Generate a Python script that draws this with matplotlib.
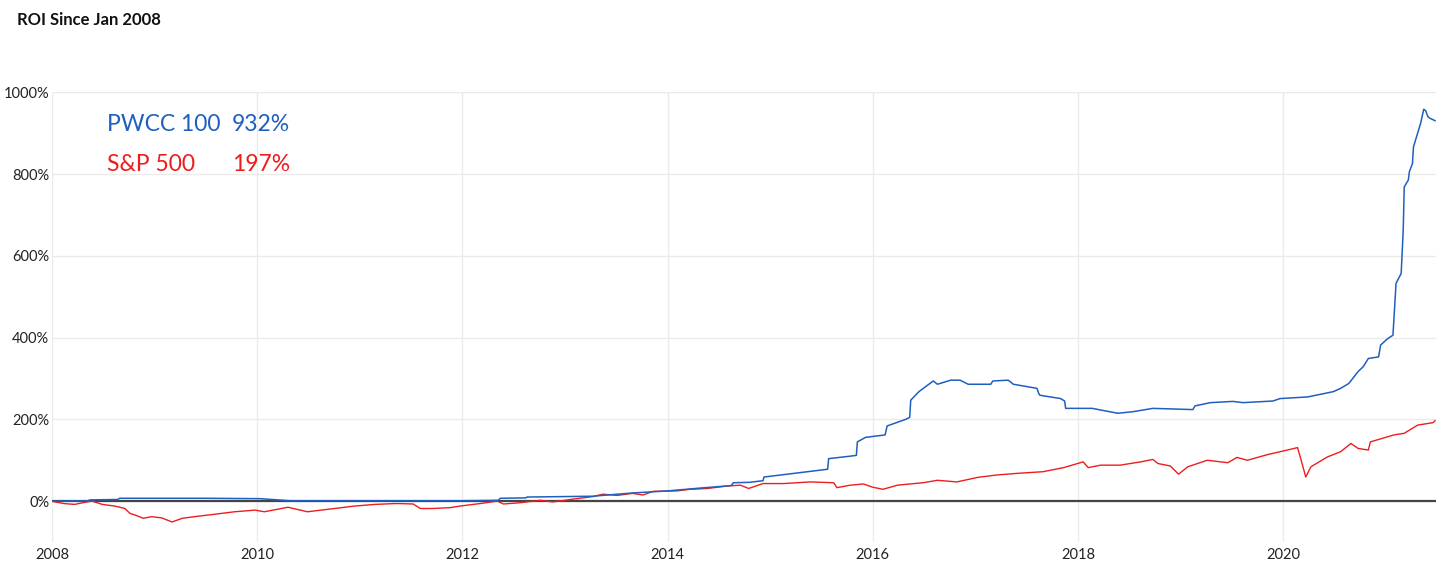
import matplotlib
matplotlib.use('Agg')
import matplotlib.pyplot as plt

# PWCC 100 index, ROI in % (decimal year, value)
pwcc_anos = [2008.00, 2008.35, 2008.37, 2008.64, 2008.66, 2009.50, 2010.03, 2010.32, 2011.00, 2012.00,
             2012.35, 2012.37, 2012.62, 2012.63, 2013.27, 2013.66, 2014.00, 2014.32, 2014.62, 2014.64,
             2014.80, 2014.93, 2014.94, 2015.56, 2015.57, 2015.78, 2015.84, 2015.85, 2015.93, 2016.12,
             2016.14, 2016.32, 2016.36, 2016.37, 2016.45, 2016.59, 2016.63, 2016.76, 2016.85, 2016.93,
             2017.15, 2017.17, 2017.32, 2017.37, 2017.60, 2017.62, 2017.63, 2017.83, 2017.87, 2017.88,
             2018.14, 2018.22, 2018.39, 2018.54, 2018.73, 2019.12, 2019.14, 2019.29, 2019.51, 2019.61,
             2019.90, 2019.97, 2020.24, 2020.49, 2020.56, 2020.64, 2020.73, 2020.78, 2020.83, 2020.93,
             2020.95, 2021.02, 2021.07, 2021.10, 2021.15, 2021.17, 2021.18, 2021.22, 2021.23, 2021.26,
             2021.27, 2021.31, 2021.34, 2021.37, 2021.39, 2021.41, 2021.43, 2021.48]
pwcc_roi = [0, 1, 3, 4, 7, 7, 6, 1, 1, 1,
            2, 7, 8, 10, 12, 20, 25, 32, 38, 45,
            46, 50, 59, 78, 104, 110, 112, 145, 156, 162,
            184, 200, 205, 247, 268, 294, 286, 296, 296, 286,
            286, 294, 296, 286, 276, 262, 259, 251, 245, 227,
            227, 223, 215, 219, 227, 224, 233, 241, 244, 241,
            245, 251, 255, 268, 276, 288, 317, 329, 349, 353,
            382, 398, 406, 533, 557, 663, 769, 786, 806, 826,
            867, 900, 925, 959, 955, 941, 937, 931]

# S&P 500, ROI in %
sp_anos = [2008.00, 2008.03, 2008.12, 2008.22, 2008.32, 2008.39, 2008.49, 2008.61, 2008.71, 2008.76,
           2008.81, 2008.89, 2008.97, 2009.07, 2009.17, 2009.27, 2009.39, 2009.59, 2009.78, 2009.98,
           2010.07, 2010.30, 2010.49, 2010.69, 2010.95, 2011.15, 2011.34, 2011.39, 2011.52, 2011.59,
           2011.71, 2011.88, 2011.98, 2012.17, 2012.34, 2012.40, 2012.56, 2012.76, 2012.88, 2013.08,
           2013.27, 2013.37, 2013.51, 2013.66, 2013.76, 2013.86, 2014.09, 2014.22, 2014.39, 2014.58,
           2014.71, 2014.79, 2014.93, 2015.13, 2015.39, 2015.62, 2015.65, 2015.78, 2015.91, 2016.00,
           2016.10, 2016.24, 2016.49, 2016.63, 2016.82, 2017.02, 2017.21, 2017.41, 2017.66, 2017.86,
           2018.05, 2018.10, 2018.22, 2018.41, 2018.61, 2018.73, 2018.78, 2018.90, 2018.98, 2019.07,
           2019.26, 2019.46, 2019.55, 2019.65, 2019.85, 2020.04, 2020.14, 2020.17, 2020.22, 2020.27,
           2020.43, 2020.56, 2020.66, 2020.73, 2020.83, 2020.85, 2021.08, 2021.18, 2021.31, 2021.41,
           2021.46, 2021.48]
sp_roi = [0, -2, -6, -8, -3, 0, -8, -12, -18, -30,
          -34, -42, -38, -41, -51, -42, -38, -32, -26, -22,
          -26, -15, -26, -20, -12, -8, -6, -6, -7, -18,
          -18, -16, -12, -6, 0, -7, -4, 2, -2, 5,
          11, 17, 14, 19, 15, 24, 25, 29, 31, 37,
          39, 31, 43, 43, 47, 45, 33, 39, 42, 34,
          29, 39, 45, 51, 47, 58, 64, 68, 72, 82,
          96, 82, 88, 88, 96, 102, 92, 86, 66, 84,
          100, 94, 107, 100, 114, 125, 131, 105, 59, 84,
          108, 121, 141, 129, 125, 145, 162, 166, 186, 190,
          192, 197]

anos_ticks = [2008, 2010, 2012, 2014, 2016, 2018, 2020]
roi_ticks = [0, 200, 400, 600, 800, 1000]

azul = '#1f5fc0'
vermelho = '#ee1d1d'

plt.rcParams['font.family'] = ['Lato', 'DejaVu Sans']

fig = plt.figure(figsize=(14.56, 5.67), dpi=100)
ax = fig.add_axes([0.0357, 0.0441, 0.9506, 0.7928])

ax.plot(sp_anos, sp_roi, color=vermelho, linewidth=1.0, zorder=3)
ax.plot(pwcc_anos, pwcc_roi, color=azul, linewidth=1.1, zorder=4)
ax.axhline(0, color='#444444', linewidth=1.6, zorder=2)

ax.set_xlim(2008, 2021.49)
ax.set_ylim(-100, 1000)
ax.set_xticks(anos_ticks)
ax.set_xticklabels([str(a) for a in anos_ticks])
ax.set_yticks(roi_ticks)
ax.set_yticklabels([f'{v}%' for v in roi_ticks])
ax.grid(True, color='#ebebeb', linewidth=1.0, zorder=0)
ax.tick_params(length=0, labelsize=10.5, colors='#222222')
ax.tick_params(axis='y', pad=2)
ax.tick_params(axis='x', pad=4)
for s in ax.spines.values():
    s.set_visible(False)

fig.text(17 / 1456, 1 - 20 / 567, 'ROI Since Jan 2008', fontsize=12, fontweight='bold',
         color='#111111', va='center', ha='left')

ax.text(107 / 1456, 1 - 125 / 567, 'PWCC 100', transform=fig.transFigure, fontsize=16.5,
        color=azul, va='center', ha='left')
ax.text(232 / 1456, 1 - 125 / 567, '932%', transform=fig.transFigure, fontsize=16.5,
        color=azul, va='center', ha='left')
ax.text(107 / 1456, 1 - 165 / 567, 'S&P 500', transform=fig.transFigure, fontsize=16.5,
        color=vermelho, va='center', ha='left')
ax.text(232 / 1456, 1 - 165 / 567, '197%', transform=fig.transFigure, fontsize=16.5,
        color=vermelho, va='center', ha='left')

fig.savefig('out.png', dpi=100)
